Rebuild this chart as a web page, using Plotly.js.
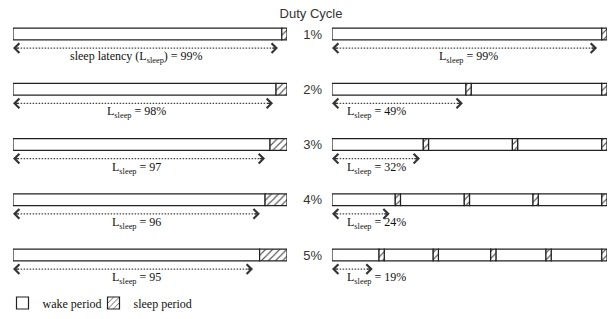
<!DOCTYPE html>
<html>
<head>
<meta charset="utf-8">
<script src="https://cdn.plot.ly/plotly-3.0.1.min.js"></script>
<style>html,body{margin:0;padding:0;background:#fff;}#chart{width:613px;height:319px;}</style>
</head>
<body>
<div id="chart"></div>
<script>
// ---- data (percent of bar length) ----
const dutyCycles = ['1%', '2%', '3%', '4%', '5%'];
const leftSleepStart = [98.1, 96.0, 93.8, 92.0, 90.0];
const leftArrowEnd = [96.7, 94.9, 92.0, 90.1, 87.6];
const leftLatency = ['sleep latency (L<sub>sleep</sub>) = 99%', 'L<sub>sleep</sub> = 98%', 'L<sub>sleep</sub> = 97', 'L<sub>sleep</sub> = 96', 'L<sub>sleep</sub> = 95'];
const rightSleepStarts = [
  [98.1],
  [48.7, 98.1],
  [33.2, 65.6, 98.1],
  [23.0, 48.1, 73.1, 98.1],
  [17.1, 36.8, 57.7, 77.8, 98.1]
];
const rightSleepWidth = 1.9;
const rightArrowEnd = [96.4, 47.6, 32.0, 21.0, 14.8];
const rightLatency = ['L<sub>sleep</sub> = 99%', 'L<sub>sleep</sub> = 49%', 'L<sub>sleep</sub> = 32%', 'L<sub>sleep</sub> = 24%', 'L<sub>sleep</sub> = 19%'];

// ---- build ----
const rowIdx = dutyCycles.map((_, i) => i);
const ARROW_DY = 0.255, LABEL_DY = 0.42, BAR_W = 0.21;
const serif = 'Liberation Serif, Times New Roman, serif';
const sans = 'Liberation Sans, Arial, sans-serif';
const outline = {color: '#222', width: 1.2};
const hatch = {shape: '/', fgcolor: '#555', bgcolor: '#fff', size: 5, solidity: 0.22};

function segs(sleepStarts, w) {
  const wake = {base: [], x: [], y: []}, sleep = {base: [], x: [], y: []};
  sleepStarts.forEach((starts, i) => {
    let prev = 0;
    starts.forEach(s => {
      wake.base.push(prev); wake.x.push(s - prev); wake.y.push(i);
      sleep.base.push(s); sleep.x.push(w); sleep.y.push(i);
      prev = s + w;
    });
  });
  return {wake, sleep};
}
const R = segs(rightSleepStarts, rightSleepWidth);

const traces = [
  {type: 'bar', orientation: 'h', name: 'wake period', legendwidth: 46, y: rowIdx, base: rowIdx.map(() => 0), x: leftSleepStart,
   xaxis: 'x', yaxis: 'y', width: BAR_W, marker: {color: '#fff', line: outline}, hoverinfo: 'skip'},
  {type: 'bar', orientation: 'h', name: 'sleep period', legendwidth: 90, y: rowIdx, base: leftSleepStart, x: leftSleepStart.map(v => 100 - v),
   xaxis: 'x', yaxis: 'y', width: BAR_W, marker: {color: '#fff', line: outline, pattern: hatch}, hoverinfo: 'skip'},
  {type: 'bar', orientation: 'h', name: 'wake period', showlegend: false, y: R.wake.y, base: R.wake.base, x: R.wake.x,
   xaxis: 'x2', yaxis: 'y', width: BAR_W, marker: {color: '#fff', line: outline}, hoverinfo: 'skip'},
  {type: 'bar', orientation: 'h', name: 'sleep period', showlegend: false, y: R.sleep.y, base: R.sleep.base, x: R.sleep.x,
   xaxis: 'x2', yaxis: 'y', width: BAR_W, marker: {color: '#fff', line: outline, pattern: hatch}, hoverinfo: 'skip'}
];

function arrowTrace(ends, xa) {
  const x = [], y = [];
  ends.forEach((e, i) => { x.push(0.6, e - 0.6, null); y.push(i + ARROW_DY, i + ARROW_DY, null); });
  return {type: 'scatter', mode: 'lines', x, y, xaxis: xa, yaxis: 'y', showlegend: false, hoverinfo: 'skip',
          line: {color: '#444', width: 1.2, dash: '1.5px,1.5px'}};
}
traces.push(arrowTrace(leftArrowEnd, 'x'), arrowTrace(rightArrowEnd, 'x2'));

const annotations = [];
function heads(ends, xr) {
  ends.forEach((e, i) => {
    annotations.push({xref: xr, yref: 'y', x: e, y: i + ARROW_DY, ax: -7, ay: 0, text: '', showarrow: true,
      arrowhead: 4, arrowsize: 1.35, arrowwidth: 1.4, arrowcolor: '#333', standoff: 0});
    annotations.push({xref: xr, yref: 'y', x: 0, y: i + ARROW_DY, ax: 7, ay: 0, text: '', showarrow: true,
      arrowhead: 4, arrowsize: 1.35, arrowwidth: 1.4, arrowcolor: '#333', standoff: 0});
  });
}
heads(leftArrowEnd, 'x'); heads(rightArrowEnd, 'x2');

leftLatency.forEach((t, i) => annotations.push({xref: 'x', yref: 'y', x: 45, y: i + LABEL_DY, text: t, showarrow: false,
  xanchor: 'center', yanchor: 'middle', font: {family: serif, size: 12, color: '#111'}}));
rightLatency.forEach((t, i) => {
  const single = rightSleepStarts[i].length === 1;
  annotations.push({xref: 'x2', yref: 'y', x: single ? rightArrowEnd[i] / 2 + 1.3 : 4.7, y: i + LABEL_DY, text: t, showarrow: false,
    xanchor: single ? 'center' : 'left', yanchor: 'middle', font: {family: serif, size: 12, color: '#111'}});
});

const W = 613, H = 319, L = 13, Rm = 6, T = 0, B = 40;
const pw = W - L - Rm, ph = H - T - B;
const rowPx = 55.25, firstPx = 34;
const layout = {
  width: W, height: H,
  margin: {l: L, r: Rm, t: T, b: B, pad: 0, autoexpand: false},
  paper_bgcolor: '#fff', plot_bgcolor: '#fff',
  barmode: 'overlay',
  title: {text: 'Duty Cycle', x: 311 / W, xanchor: 'center', xref: 'container', y: 1 - 13 / H, yanchor: 'middle', yref: 'container',
          font: {family: sans, size: 13, color: '#333'}},
  xaxis: {domain: [0, 274 / pw], range: [0, 100], visible: false, fixedrange: true},
  xaxis2: {domain: [(332 - L) / pw, 1], range: [0, 100], visible: false, fixedrange: true, anchor: 'y'},
  yaxis: {range: [(ph - firstPx) / rowPx, -firstPx / rowPx], anchor: 'free', position: (332 - L) / pw, side: 'left',
          tickvals: rowIdx, ticktext: dutyCycles, showgrid: false, zeroline: false, showline: false, ticks: '',
          ticklabelstandoff: 10, tickfont: {family: sans, size: 13, color: '#333'}, fixedrange: true},
  showlegend: true,
  legend: {orientation: 'h', xref: 'container', yref: 'container', x: 2.5 / W, xanchor: 'left', y: 1 - 303 / H, yanchor: 'middle',
           font: {family: serif, size: 12, color: '#111'}, bgcolor: 'rgba(0,0,0,0)', traceorder: 'normal'},
  annotations
};
Plotly.newPlot('chart', traces, layout, {displayModeBar: false, staticPlot: true});
</script>
</body>
</html>
